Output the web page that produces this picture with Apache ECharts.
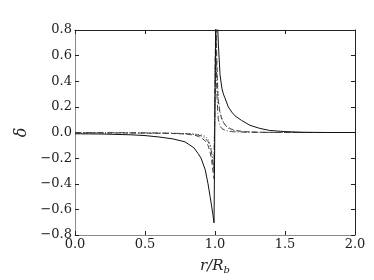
<!DOCTYPE html>
<html><head><meta charset="utf-8">
<script src="https://cdn.jsdelivr.net/npm/echarts@6/dist/echarts.min.js"></script>
<style>html,body{margin:0;padding:0;background:#fff}#c{width:374px;height:280px}</style>
</head><body><div id="c"></div>
<script>
var r = [0, 0.2, 0.4, 0.5, 0.6, 0.7, 0.786, 0.85, 0.88, 0.9, 0.93, 0.95, 0.965, 0.976, 0.985, 0.993,
  1.006, 1.012, 1.02, 1.024, 1.036, 1.05, 1.06, 1.071, 1.095, 1.119, 1.143, 1.19, 1.25, 1.32, 1.39, 1.5, 1.63, 1.8, 2.0];
var solid = [-0.010, -0.012, -0.018, -0.024, -0.035, -0.05, -0.073, -0.12, -0.165, -0.2, -0.29, -0.4, -0.5, -0.575, -0.64, -0.705,
  0.95, 1.0, 0.8, 0.69, 0.45, 0.34, 0.3, 0.27, 0.2, 0.16, 0.13, 0.094, 0.056, 0.032, 0.016, 0.007, 0.002, 0.0, 0.0];
var dashed = [-0.003, -0.003, -0.004, -0.005, -0.006, -0.008, -0.012, -0.02, -0.03, -0.04, -0.065, -0.1, -0.15, -0.22, -0.3, -0.36,
  1.0, 0.6, 0.3, 0.24, 0.15, 0.1, 0.08, 0.06, 0.04, 0.025, 0.017, 0.009, 0.004, 0.002, 0.001, 0, 0, 0, 0];
var dashdot = [0.0, -0.001, -0.002, -0.003, -0.004, -0.006, -0.009, -0.014, -0.02, -0.026, -0.045, -0.07, -0.1, -0.16, -0.24, -0.3,
  0.9, 0.35, 0.15, 0.1, 0.05, 0.03, 0.024, 0.018, 0.01, 0.007, 0.005, 0.003, 0.002, 0.001, 0, 0, 0, 0, 0];
var dotted = [-0.004, -0.004, -0.004, -0.005, -0.005, -0.006, -0.009, -0.012, -0.015, -0.018, -0.03, -0.05, -0.09, -0.15, -0.22, -0.28,
  0.9, 0.6, 0.35, 0.27, 0.16, 0.11, 0.08, 0.06, 0.032, 0.02, 0.014, 0.008, 0.004, 0.002, 0.001, 0, 0, 0, 0];
var xTicks = [0.0, 0.5, 1.0, 1.5, 2.0];
var yTicks = [-0.8, -0.6, -0.4, -0.2, 0.0, 0.2, 0.4, 0.6, 0.8];

function pairs(v){ return r.map(function(x,i){ return [x, v[i]]; }); }
function fmt(v){ var s = Number(v).toFixed(1); return s.replace('-', '\u2212'); }

var font = '"DejaVu Serif", "Liberation Serif", serif';
var chart = echarts.init(document.getElementById('c'), null, {renderer:'canvas'});
var axisCommon = {
  type:'value', splitLine:{show:false},
  axisTick:{show:true, inside:true, length:4, lineStyle:{color:'#222'}},
  axisLabel:{color:'#222', fontFamily:font, fontSize:13, margin:3, formatter:fmt}
};
chart.setOption({
  animation:false,
  grid:{left:75, right:19, top:30, bottom:43, containLabel:false},
  xAxis:[
    Object.assign({}, axisCommon, {position:'bottom', min:0, max:2, interval:0.5,
      axisLine:{show:true, onZero:false, lineStyle:{color:'#888', width:1}},
      name:'{i|r/R}{s|b}', nameLocation:'middle', nameGap:22,
      nameTextStyle:{rich:{i:{fontFamily:font, fontStyle:'italic', fontSize:15, color:'#222'},
        s:{fontFamily:font, fontStyle:'italic', fontSize:10, color:'#222', verticalAlign:'bottom', padding:[8,0,0,0]}}}}),
    Object.assign({}, axisCommon, {position:'top', min:0, max:2, interval:0.5,
      axisLine:{show:true, onZero:false, lineStyle:{color:'#222', width:1}},
      axisLabel:{show:false}})
  ],
  yAxis:[
    Object.assign({}, axisCommon, {position:'left', min:-0.8, max:0.8, interval:0.2,
      axisLine:{show:true, onZero:false, lineStyle:{color:'#888', width:1}},
      name:'\u03b4', nameLocation:'middle', nameGap:40, nameRotate:90,
      nameTextStyle:{fontFamily:font, fontStyle:'italic', fontSize:16, color:'#222'}}),
    Object.assign({}, axisCommon, {position:'right', min:-0.8, max:0.8, interval:0.2,
      axisLine:{show:true, onZero:false, lineStyle:{color:'#222', width:1}},
      axisLabel:{show:false}})
  ],
  series:[
    {type:'line', data:pairs(dotted), showSymbol:false, clip:true, lineStyle:{color:'#555', width:1, type:[1,2]}},
    {type:'line', data:pairs(dashdot), showSymbol:false, clip:true, lineStyle:{color:'#444', width:1, type:[6,2,1,2]}},
    {type:'line', data:pairs(dashed), showSymbol:false, clip:true, lineStyle:{color:'#444', width:1, type:[5,3]}},
    {type:'line', data:pairs(solid), showSymbol:false, clip:true, lineStyle:{color:'#111', width:1, type:'solid'}}
  ]
});
</script></body></html>
